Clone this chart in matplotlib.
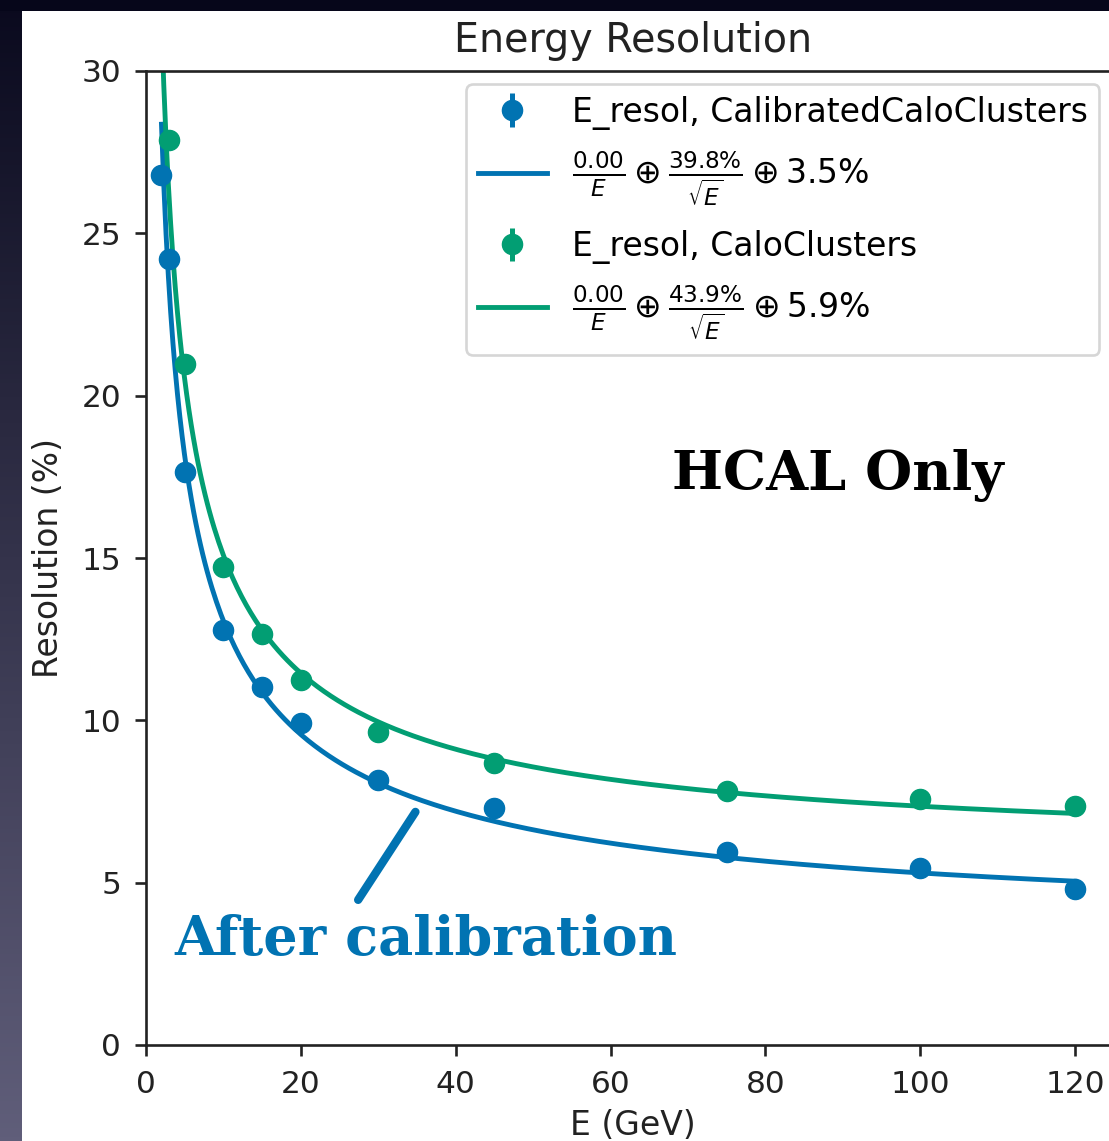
import numpy as np
import matplotlib
matplotlib.use("Agg")
import matplotlib.pyplot as plt
from matplotlib.patches import Rectangle
from matplotlib.lines import Line2D

# =========================
# DATA
# =========================
E_calib = [2, 3, 5, 10, 15, 20, 30, 45, 75, 100, 120]
res_calib = [26.8, 24.2, 17.65, 12.78, 11.03, 9.92, 8.16, 7.3, 5.94, 5.45, 4.8]
err_calib = [0.15, 0.1, 0.08, 0.06, 0.05, 0.05, 0.04, 0.04, 0.03, 0.03, 0.03]

E_raw = [3, 5, 10, 15, 20, 30, 45, 75, 100, 120]
res_raw = [27.87, 20.97, 14.72, 12.66, 11.24, 9.64, 8.68, 7.82, 7.58, 7.36]
err_raw = [0.12, 0.08, 0.06, 0.05, 0.05, 0.04, 0.04, 0.03, 0.03, 0.03]

# fit parameters shown in the legend: a/E (+) b/sqrt(E) (+) c
fit_calib = [0.00, 39.8, 3.5]
fit_raw = [0.00, 43.9, 5.9]

BLUE = "#0173B2"
GREEN = "#029E73"

W, H = 1109, 1141
DPI = 100


def fit_curve(E, a, b, c):
    return np.sqrt((a / E) ** 2 + (b / np.sqrt(E)) ** 2 + c ** 2)


fig = plt.figure(figsize=(W / DPI, H / DPI), dpi=DPI)

# =========================
# SLIDE BACKGROUND
# =========================
bg = fig.add_axes([0, 0, 1, 1], zorder=-2)
grad = np.linspace(0, 1, 256)[:, None]
top_col = np.array([10, 10, 30]) / 255
bot_col = np.array([96, 94, 122]) / 255
img = top_col[None, None, :] * (1 - grad[:, :, None]) + bot_col[None, None, :] * grad[:, :, None]
bg.imshow(img, aspect="auto", extent=[0, 1, 0, 1])
bg.set_xlim(0, 1)
bg.set_ylim(0, 1)
bg.axis("off")
bg.add_patch(Rectangle((22 / W, 0), 1, 1 - 11 / H, facecolor="white", edgecolor="none"))
bg.add_patch(Rectangle((0, 1 - 11 / H), 1, 11 / H, facecolor="#06061a", edgecolor="none"))

# =========================
# MAIN AXES
# =========================
left = 146 / W
bottom = (H - 1045) / H
width = (1120 - 146) / W
height = (1045 - 71) / H
ax = fig.add_axes([left, bottom, width, height])
ax.set_facecolor("none")

eb1 = ax.errorbar(E_calib, res_calib, yerr=err_calib, fmt="o", color=BLUE,
                  markersize=14.5, elinewidth=3.6, capsize=0, zorder=3)
xs1 = np.linspace(min(E_calib), max(E_calib), 400)
l1, = ax.plot(xs1, fit_curve(xs1, *fit_calib), color=BLUE, lw=3.5, zorder=2)

eb2 = ax.errorbar(E_raw, res_raw, yerr=err_raw, fmt="o", color=GREEN,
                  markersize=14.5, elinewidth=3.6, capsize=0, zorder=3)
xs2 = np.linspace(min(E_calib), max(E_raw), 400)
l2, = ax.plot(xs2, fit_curve(xs2, *fit_raw), color=GREEN, lw=3.5, zorder=2)

ax.set_xlim(0, 125.8)
ax.set_ylim(0, 30)
ax.set_xticks([0, 20, 40, 60, 80, 100, 120])
ax.set_yticks([0, 5, 10, 15, 20, 25, 30])
ax.tick_params(labelsize=22.5, length=8, width=1.9, pad=10, colors="#222222", labelcolor="#222222")
for s in ax.spines.values():
    s.set_linewidth(1.9)
    s.set_color("#222222")

ax.set_title("Energy Resolution", fontsize=28.5, pad=14, color="#222222")
ax.set_xlabel("E (GeV)", fontsize=23.8, labelpad=7, color="#222222")
ax.set_ylabel("Resolution (%)", fontsize=23.8, labelpad=12, color="#222222")


def fit_label(p):
    return (r"$\frac{%.2f}{E}\oplus\frac{%.1f\%%}{\sqrt{E}}\oplus %.1f\%%$"
            % (p[0], p[1], p[2]))


handles = [eb1, l1, eb2, l2]
labels = ["E_resol, CalibratedCaloClusters", fit_label(fit_calib),
          "E_resol, CaloClusters", fit_label(fit_raw)]
leg = fig.legend(handles, labels, loc="upper left",
                 bbox_to_anchor=(466 / W, 1 - 84 / H), borderaxespad=0,
                 fontsize=23.8, frameon=True, fancybox=True, framealpha=0.8,
                 borderpad=0.35, labelspacing=0.62, handlelength=2.1,
                 handletextpad=0.75)
leg.get_frame().set_edgecolor("#cccccc")
leg.get_frame().set_linewidth(1.9)

# =========================
# ANNOTATIONS
# =========================
ax.text(68.0, 17.1, "HCAL Only", fontsize=39, fontweight="bold",
        family="DejaVu Serif", color="black", ha="left", va="baseline")
ax.text(3.7, 2.77, "After calibration", fontsize=39, fontweight="bold",
        family="DejaVu Serif", color=BLUE, ha="left", va="baseline")
ax.add_line(Line2D([27.4, 34.8], [4.47, 7.18], color=BLUE, lw=6,
                   solid_capstyle="round", zorder=4))

fig.savefig("out.png", dpi=DPI)
